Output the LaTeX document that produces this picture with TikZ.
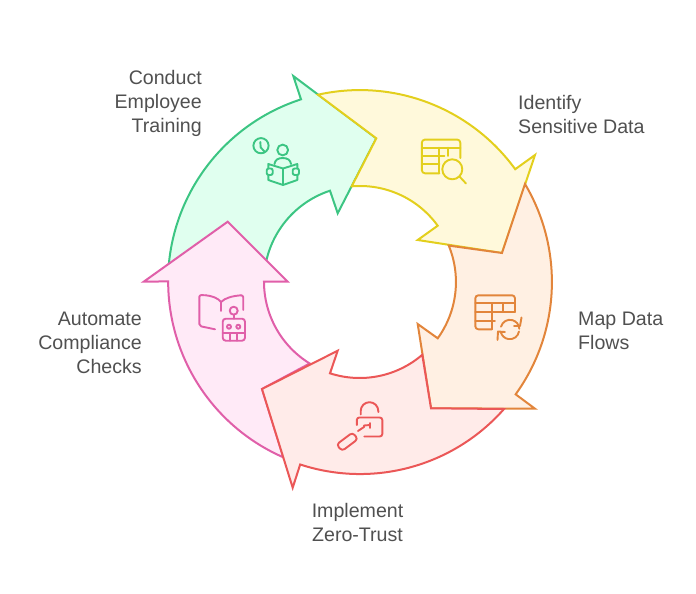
\documentclass[tikz,border=0pt]{standalone}
\usepackage{fontspec}
\setmainfont{Liberation Sans}
\definecolor{gS}{HTML}{3CC583}\definecolor{gF}{HTML}{E0FFEF}
\definecolor{yS}{HTML}{E3CF1D}\definecolor{yF}{HTML}{FFF9DB}
\definecolor{oS}{HTML}{E2853B}\definecolor{oF}{HTML}{FFF0E3}
\definecolor{rS}{HTML}{EB5757}\definecolor{rF}{HTML}{FFEBE9}
\definecolor{pS}{HTML}{E05FA9}\definecolor{pF}{HTML}{FFEAF7}
\definecolor{txt}{HTML}{505050}
\tikzset{
  seg/.style={line width=2pt,line join=miter,miter limit=10},
  ico/.style={line width=1.9pt,line cap=round,line join=round},
  lab/.style={inner sep=0pt,text=txt,font=\fontsize{19.6}{24}\selectfont}
}
\begin{document}
\begin{tikzpicture}[x=1pt,y=1pt,yscale=-1]
\useasboundingbox (0,0) rectangle (696,594);
% green
\draw[seg,draw=gS,fill=gF] (168.76,265) arc[start angle=-174.9,end angle=-107.9,radius=192pt]
  -- (293.3,76) -- (376.3,138.3) -- (337.7,213.3) -- (330,190.7)
  arc[start angle=-108.2,end angle=-168,radius=96pt] -- cycle;
% yellow
\draw[seg,draw=yS,fill=yF] (318,94.7) arc[start angle=-102.6,end angle=-36,radius=192pt]
  -- (535,155) -- (502,253) -- (417.7,240) -- (437.7,225.7)
  arc[start angle=-35.9,end angle=-94.9,radius=96pt] -- (376.3,138.3) -- cycle;
% orange
\draw[seg,draw=oS,fill=oF] (525,184) arc[start angle=-30.7,end angle=35.8,radius=192pt]
  -- (535,408.7) -- (431,408.3) -- (417.7,324) -- (437.7,338.3)
  arc[start angle=35.9,end angle=-22.3,radius=96pt] -- (502,253) -- cycle;
% pink
\draw[seg,draw=pS,fill=pF] (227.7,221.7) -- (287.7,281.7) -- (264,281.7)
  arc[start angle=180,end angle=121.6,radius=96pt] -- (262,389) -- (283.3,457.3)
  arc[start angle=113.6,end angle=180,radius=192pt] -- (143.7,281.7) -- cycle;
% red
\draw[seg,draw=rS,fill=rF] (504,409) arc[start angle=41.4,end angle=108.15,radius=192pt]
  -- (292.7,487.7) -- (262,389) -- (337.7,350.7) -- (330,373.3)
  arc[start angle=108,end angle=49.3,radius=96pt] -- (431,408.3) -- cycle;
% green icon
\begin{scope}[ico,draw=gS]
\draw (261,145.7) circle[radius=7.6pt];
\draw (260.3,142) -- (260.7,147.5) -- (264.5,151.5);
\draw (282.7,150) circle[radius=5.4pt];
\draw (274.5,164) .. controls (275,160) and (278,158) .. (282.7,158) .. controls (287.5,158) and (290.5,160) .. (291,164);
\draw (268.3,168) -- (268.3,164) -- (283,168.5) -- (297.3,164) -- (297.3,168);
\draw (268.3,175) -- (268.3,180) -- (283,185) -- (297.3,180) -- (297.3,175);
\draw (283,168.5) -- (283,185);
\draw[rounded corners=2pt] (266.7,168.5) rectangle (272.7,175);
\draw[rounded corners=2pt] (292.7,168.5) rectangle (299,175);
\end{scope}
% yellow icon
\begin{scope}[ico,draw=yS]
\draw[rounded corners=3pt] (460.3,158) -- (460.3,139.6) -- (421.9,139.6) -- (421.9,173.3) -- (439.3,173.3);
\draw (421.9,147.7) -- (460.3,147.7);
\draw (421.9,156) -- (444.5,156);
\draw (421.9,164.3) -- (439.3,164.3);
\draw (439.3,147.7) -- (439.3,173.3);
\draw (448.3,147.7) -- (448.3,156);
\draw (452.3,169.3) circle[radius=10pt];
\draw (459.5,176.5) -- (466,183.5);
\end{scope}
% orange icon
\begin{scope}[ico,draw=oS]
\draw[rounded corners=3pt] (515,312) -- (515,295.3) -- (475.3,295.3) -- (475.3,329.3) -- (491.7,329.3);
\draw (475.3,303.3) -- (515,303.3);
\draw (475.3,311.7) -- (515,311.7);
\draw (475.3,320.7) -- (495,320.7);
\draw (491.7,303.3) -- (491.7,329.3);
\draw (502.7,303.3) -- (502.7,311.7);
\draw (501,326.7) arc[start angle=-165,end angle=-2,radius=9.3pt];
\draw (514,326) -- (520,326) -- (521.5,317.5);
\draw (519,331.5) arc[start angle=10,end angle=165,radius=9.3pt];
\draw (497.5,340) -- (498,331.5) -- (505,332);
\end{scope}
% red icon
\begin{scope}[ico,draw=rS]
\draw (360.7,414.5) -- (360.7,411) arc[start angle=180,end angle=360,radius=8.8pt] -- (378.3,412);
\draw[rounded corners=2.5pt] (356.8,425) -- (356.8,417.5) -- (382.3,417.5) -- (382.3,436.5) -- (364.3,436.5);
\draw (358,431) -- (364,427) -- (364,425.5) -- (370,425);
\draw (370,423) -- (370,428);
\draw[rounded corners=3.2pt] (336.5,444.5) -- (352.5,432.5) -- (358,439) -- (342,451) -- cycle;
\end{scope}
% pink icon
\begin{scope}[ico,draw=pS]
\draw[rounded corners=2pt] (215,329.3) -- (199.3,326) -- (199.3,295) -- (206,295.3);
\draw (206,295.3) .. controls (212,296) and (218,298) .. (221,302) .. controls (225,298) and (232,296) .. (241,295.3);
\draw[rounded corners=2pt] (241,295.3) -- (243.2,295.3) -- (243.2,310);
\draw (221,302) -- (221,311);
\draw (233.7,310.7) circle[radius=4pt];
\draw (233.7,314.7) -- (233.7,318.7);
\draw[rounded corners=3pt] (222.7,318.7) rectangle (245,340.7);
\draw (222.7,333.3) -- (245,333.3);
\draw (230,333.3) -- (230,340.7);
\draw (237.3,333.3) -- (237.3,340.7);
\draw (229,326.7) circle[radius=2pt];
\draw (238.3,326.7) circle[radius=2pt];
\end{scope}
% labels
\node[lab,anchor=east,align=right] (t1) at (202,103.5) {Conduct\\Employee\\Training};
\node[lab,anchor=west,align=left] (t2) at (518,114) {Identify\\Sensitive Data};
\node[lab,anchor=west,align=left] (t3) at (578,331) {Map Data\\Flows};
\node[lab,anchor=center,align=center] (t4) at (357.5,522) {Implement\\Zero-Trust};
\node[lab,anchor=east,align=right] (t5) at (142,343) {Automate\\Compliance\\Checks};
\end{tikzpicture}
\end{document}
